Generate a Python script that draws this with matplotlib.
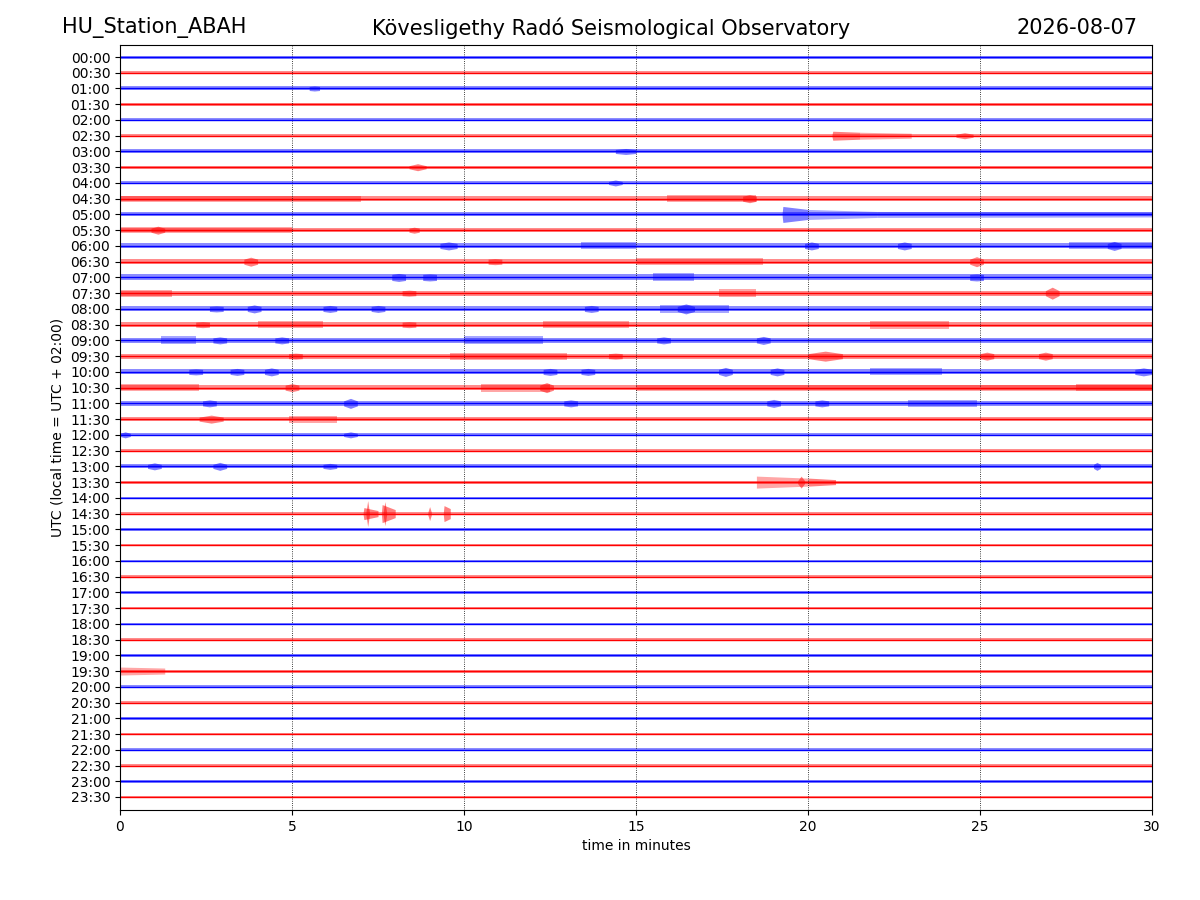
import matplotlib
matplotlib.use('Agg')
import matplotlib.pyplot as plt

# row labels of the helicorder (one row = 30 minutes)
row_labels = [f'{h:02d}:{m:02d}' for h in range(24) for m in (0, 30)]

# background noise half-amplitude of each row (1 unit = 1/16 of row spacing)
base_amp = [
    1.5, 1.5, 2.0, 1.5, 1.5, 1.5, 2.0, 1.5, 1.5, 2.5, 2.0, 2.0,
    2.5, 2.5, 3.0, 2.5, 2.5, 2.5, 2.5, 2.5, 2.5, 2.5, 2.5, 2.0,
    1.6, 1.5, 2.0, 1.5, 1.3, 1.5, 1.5, 1.3, 1.3, 1.3, 1.3, 1.3,
    1.3, 1.3, 1.5, 1.5, 1.3, 1.3, 1.3, 1.3, 1.3, 1.3, 1.3, 1.3,
]

# bursts: (row, start min, end min, amp at start, amp at end)
bursts = [
    ('01:00', 5.5, 5.8, 2.5, 2.5),
    ('02:30', 20.7, 21.5, 4.5, 3.5),
    ('02:30', 21.5, 23.0, 3.5, 2.5),
    ('02:30', 24.3, 24.8, 3.0, 3.0),
    ('03:00', 14.4, 15.0, 3.0, 3.0),
    ('03:30', 8.4, 8.9, 3.5, 3.5),
    ('04:00', 14.2, 14.6, 3.0, 3.0),
    ('04:30', 0.0, 7.0, 3.0, 3.0),
    ('04:30', 15.9, 18.5, 3.5, 3.5),
    ('04:30', 18.1, 18.5, 4.0, 4.0),
    ('05:00', 19.25, 20.0, 8.0, 5.0),
    ('05:00', 20.0, 22.0, 5.0, 3.0),
    ('05:00', 22.0, 30.0, 3.0, 2.5),
    ('05:30', 0.0, 5.0, 3.0, 3.0),
    ('05:30', 0.9, 1.3, 4.0, 4.0),
    ('05:30', 8.4, 8.7, 3.0, 3.0),
    ('06:00', 9.3, 9.8, 4.0, 4.0),
    ('06:00', 13.4, 15.0, 3.5, 3.5),
    ('06:00', 19.9, 20.3, 4.0, 4.0),
    ('06:00', 22.6, 23.0, 4.0, 4.0),
    ('06:00', 27.6, 30.0, 3.5, 3.5),
    ('06:00', 28.7, 29.1, 4.5, 4.5),
    ('06:30', 3.6, 4.0, 4.5, 4.5),
    ('06:30', 10.7, 11.1, 3.0, 3.0),
    ('06:30', 15.0, 18.7, 3.5, 3.5),
    ('06:30', 24.7, 25.1, 5.0, 5.0),
    ('07:00', 7.9, 8.3, 4.0, 4.0),
    ('07:00', 8.8, 9.2, 3.5, 3.5),
    ('07:00', 15.5, 16.7, 4.0, 4.0),
    ('07:00', 24.7, 25.1, 3.5, 3.5),
    ('07:30', 0.0, 1.5, 3.5, 3.5),
    ('07:30', 8.2, 8.6, 3.0, 3.0),
    ('07:30', 17.4, 18.5, 4.0, 4.0),
    ('07:30', 26.9, 27.3, 6.0, 6.0),
    ('08:00', 2.6, 3.0, 3.0, 3.0),
    ('08:00', 3.7, 4.1, 4.0, 4.0),
    ('08:00', 5.9, 6.3, 3.5, 3.5),
    ('08:00', 7.3, 7.7, 3.5, 3.5),
    ('08:00', 13.5, 13.9, 3.5, 3.5),
    ('08:00', 15.7, 17.7, 4.0, 4.0),
    ('08:00', 16.2, 16.7, 5.0, 5.0),
    ('08:30', 2.2, 2.6, 3.0, 3.0),
    ('08:30', 4.0, 5.9, 3.5, 3.5),
    ('08:30', 8.2, 8.6, 3.0, 3.0),
    ('08:30', 12.3, 14.8, 3.5, 3.5),
    ('08:30', 21.8, 24.1, 4.0, 4.0),
    ('09:00', 1.2, 2.2, 4.0, 4.0),
    ('09:00', 2.7, 3.1, 3.5, 3.5),
    ('09:00', 4.5, 4.9, 3.5, 3.5),
    ('09:00', 10.0, 12.3, 4.0, 4.0),
    ('09:00', 15.6, 16.0, 3.5, 3.5),
    ('09:00', 18.5, 18.9, 4.0, 4.0),
    ('09:30', 4.9, 5.3, 3.0, 3.0),
    ('09:30', 9.6, 13.0, 3.5, 3.5),
    ('09:30', 14.2, 14.6, 3.0, 3.0),
    ('09:30', 20.0, 21.0, 5.0, 5.0),
    ('09:30', 25.0, 25.4, 4.0, 4.0),
    ('09:30', 26.7, 27.1, 4.0, 4.0),
    ('10:00', 2.0, 2.4, 3.0, 3.0),
    ('10:00', 3.2, 3.6, 3.5, 3.5),
    ('10:00', 4.2, 4.6, 4.0, 4.0),
    ('10:00', 12.3, 12.7, 3.5, 3.5),
    ('10:00', 13.4, 13.8, 3.5, 3.5),
    ('10:00', 17.4, 17.8, 4.5, 4.5),
    ('10:00', 18.9, 19.3, 4.0, 4.0),
    ('10:00', 21.8, 23.9, 3.5, 3.5),
    ('10:00', 29.5, 30.0, 4.0, 4.0),
    ('10:30', 0.0, 2.3, 3.5, 3.5),
    ('10:30', 4.8, 5.2, 4.0, 4.0),
    ('10:30', 10.5, 12.5, 4.0, 4.0),
    ('10:30', 12.2, 12.6, 5.0, 5.0),
    ('10:30', 15.0, 30.0, 3.0, 3.0),
    ('10:30', 27.8, 30.0, 3.5, 3.5),
    ('11:00', 2.4, 2.8, 3.5, 3.5),
    ('11:00', 6.5, 6.9, 5.0, 5.0),
    ('11:00', 12.9, 13.3, 3.5, 3.5),
    ('11:00', 18.8, 19.2, 4.0, 4.0),
    ('11:00', 20.2, 20.6, 3.5, 3.5),
    ('11:00', 22.9, 24.9, 3.5, 3.5),
    ('11:30', 2.3, 3.0, 4.0, 4.0),
    ('11:30', 4.9, 6.3, 3.5, 3.5),
    ('12:00', 0.0, 0.3, 3.0, 3.0),
    ('12:00', 6.5, 6.9, 3.0, 3.0),
    ('13:00', 0.8, 1.2, 3.5, 3.5),
    ('13:00', 2.7, 3.1, 4.0, 4.0),
    ('13:00', 5.9, 6.3, 3.0, 3.0),
    ('13:00', 28.3, 28.5, 4.0, 4.0),
    ('13:30', 18.5, 20.0, 6.0, 4.0),
    ('13:30', 19.7, 19.9, 6.0, 6.0),
    ('13:30', 20.0, 20.8, 4.0, 2.5),
    ('14:30', 7.07, 7.5, 6.0, 3.0),
    ('14:30', 7.15, 7.25, 13.0, 13.0),
    ('14:30', 7.6, 8.0, 9.0, 4.0),
    ('14:30', 7.65, 7.75, 12.0, 12.0),
    ('14:30', 8.95, 9.05, 7.0, 7.0),
    ('14:30', 9.4, 9.6, 8.0, 5.0),
    ('19:30', 0.0, 1.3, 4.0, 3.0),
]

# trace colours alternate blue / red
trace_colors = ['#0000ff', '#ff0000']

px_per_row = 15.74
amp_scale = 1.0 / px_per_row

fig, ax = plt.subplots(figsize=(12, 9), dpi=100)
fig.subplots_adjust(left=0.1, right=0.96, bottom=0.1, top=0.95)

for i, label in enumerate(row_labels):
    color = trace_colors[i % 2]
    a = base_amp[i] * amp_scale
    ax.fill_between([0, 30], [i - a, i - a], [i + a, i + a],
                    color=color, alpha=0.45, lw=0)
    ax.plot([0, 30], [i, i], color=color, lw=1.0)

for label, t0, t1, a0, a1 in bursts:
    i = row_labels.index(label)
    color = trace_colors[i % 2]
    b = base_amp[i]
    if t1 - t0 > 1.0:
        # long stretch of raised noise
        ts = [t0, t1]
        amps = [a0, a1]
        alpha = 0.35
    elif a0 == a1:
        # short wave packet: swells and fades
        ts = [t0, (t0 + t1) / 2, t1]
        amps = [b, a0, b]
        alpha = 0.5
    else:
        # sharp onset, then decay
        ts = [t0, t0 + 0.02, t1]
        amps = [b, a0, a1]
        alpha = 0.5
    lo = [i - a * amp_scale for a in amps]
    hi = [i + a * amp_scale for a in amps]
    ax.fill_between(ts, lo, hi, color=color, alpha=alpha, lw=0)

ax.set_xlim(0, 30)
ax.set_ylim(len(row_labels) - 1 + 13 / px_per_row, -12 / px_per_row)
ax.set_yticks(range(len(row_labels)))
ax.set_yticklabels(row_labels)
ax.set_xticks(range(0, 31, 5))
ax.grid(axis='x', linestyle=':', color='k', linewidth=0.6)
ax.set_xlabel('time in minutes')
ax.set_ylabel('UTC (local time = UTC + 02:00)')

fig.text(0.052, 0.969, 'HU_Station_ABAH', fontsize=15, ha='left', va='center')
fig.text(0.509, 0.969, 'Kövesligethy Radó Seismological Observatory',
         fontsize=15, ha='center', va='center')
fig.text(0.9475, 0.969, '2026-08-07', fontsize=15, ha='right', va='center')

fig.savefig('out.png')
